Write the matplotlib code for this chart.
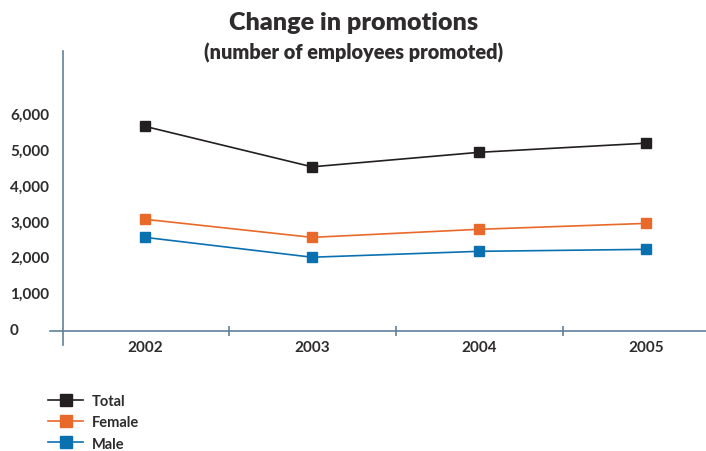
import matplotlib
matplotlib.use("Agg")
import matplotlib.pyplot as plt
from matplotlib.lines import Line2D

plt.rcParams['font.family'] = ['Lato', 'DejaVu Sans']

# Data
years = ["2002", "2003", "2004", "2005"]
total = [5640, 4510, 4915, 5170]
female = [3045, 2540, 2765, 2930]
male = [2540, 1985, 2150, 2205]
y_ticks = [0, 1000, 2000, 3000, 4000, 5000, 6000]

series_names = ["Total", "Female", "Male"]
colors = ["#231f20", "#e8692a", "#0a71b0"]
axis_color = "#5f8299"
text_color = "#2e2c2d"

W, H = 706, 452
fig = plt.figure(figsize=(W / 100, H / 100), dpi=100)

# axes rectangle in pixels: left 50, right 706, bottom (x-axis line) 331.7, top 52
left_px, right_px, bot_px, top_px = 50, 706, 331.7, 52
ax = fig.add_axes([left_px / W, 1 - bot_px / H, (right_px - left_px) / W, (bot_px - top_px) / H])

x = list(range(len(years)))
ax.set_xlim(-0.569, 3.359)
ax.set_ylim(-67, 7745)

for vals, c, name in zip([total, female, male], colors, series_names):
    ax.plot(x, vals, color=c, lw=1.2, marker="s", markersize=6.7, label=name,
            zorder=3, clip_on=False)

# axes styling
for s in ["top", "right", "left"]:
    ax.spines[s].set_visible(False)
ax.spines["bottom"].set_color(axis_color)
ax.spines["bottom"].set_linewidth(1.2)

# vertical axis line, running slightly past the horizontal one
ax.plot([-0.49, -0.49], [-466, 7745], color=axis_color, lw=1.2, clip_on=False)

ax.set_xticks(x)
ax.set_xticklabels(years)
ax.set_xticks([0.5, 1.5, 2.5], minor=True)
ax.tick_params(axis="x", which="major", length=0, pad=7, labelsize=11,
               labelcolor=text_color)
ax.tick_params(axis="x", which="minor", direction="inout", length=7,
               width=1.2, color=axis_color)
for lab in ax.get_xticklabels():
    lab.set_fontweight("bold")

ax.set_yticks(y_ticks)
ax.set_yticklabels([f"{v:,}" for v in y_ticks])
ax.tick_params(axis="y", length=0, pad=28.8, labelsize=11, labelcolor=text_color)
for lab in ax.get_yticklabels():
    lab.set_fontweight("bold")
    lab.set_horizontalalignment("left")

# titles
fig.text(354 / W, 1 - 23 / H, "Change in promotions", ha="center", va="center",
         fontsize=18.1, fontweight="heavy", color=text_color)
fig.text(354 / W, 1 - 53 / H, "(number of employees promoted)", ha="center", va="center",
         fontsize=14.3, fontweight="heavy", color=text_color)

# legend
handles = [Line2D([0], [0], color=c, lw=1.2, marker="s", markersize=8.5) for c in colors]
leg = fig.legend(handles, series_names, loc="upper left",
                 bbox_to_anchor=(48 / W, 1 - 395 / H), frameon=False,
                 handlelength=2.4, handletextpad=0.6, labelspacing=0.5,
                 borderpad=0, borderaxespad=0, fontsize=10.5)
for t in leg.get_texts():
    t.set_fontweight("bold")
    t.set_color(text_color)

fig.savefig("out.png", dpi=100)
